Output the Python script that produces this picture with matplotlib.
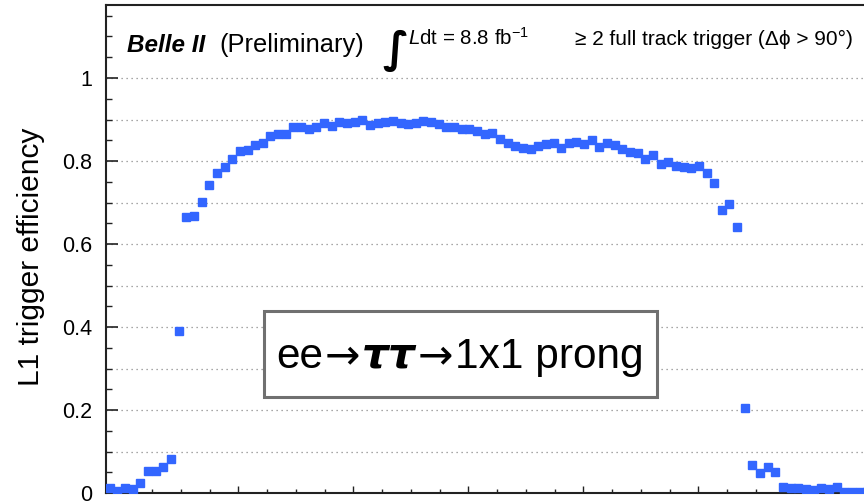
import numpy as np
import matplotlib
matplotlib.use("Agg")
import matplotlib.pyplot as plt
from matplotlib.patches import Rectangle
from matplotlib.ticker import MultipleLocator, FixedLocator

plt.rcParams['font.family'] = ['Liberation Sans', 'DejaVu Sans']
plt.rcParams['mathtext.fontset'] = 'custom'
plt.rcParams['mathtext.rm'] = 'Liberation Sans'
plt.rcParams['mathtext.it'] = 'Liberation Sans:italic'
plt.rcParams['mathtext.bf'] = 'Liberation Sans:bold'

# ---------------- data ----------------
theta_min, theta_max, n_bins = 17.0, 150.0, 100
efficiency = [
    0.013, 0.005, 0.013, 0.010, 0.024, 0.054, 0.054, 0.063, 0.082, 0.390,
    0.664, 0.667, 0.702, 0.743, 0.772, 0.786, 0.806, 0.825, 0.827, 0.839,
    0.843, 0.861, 0.864, 0.864, 0.882, 0.882, 0.877, 0.882, 0.892, 0.885,
    0.894, 0.892, 0.895, 0.900, 0.886, 0.892, 0.894, 0.896, 0.892, 0.890,
    0.892, 0.896, 0.894, 0.888, 0.882, 0.882, 0.876, 0.877, 0.872, 0.866,
    0.868, 0.853, 0.843, 0.837, 0.832, 0.830, 0.836, 0.842, 0.843, 0.832,
    0.843, 0.846, 0.840, 0.851, 0.834, 0.843, 0.839, 0.829, 0.822, 0.820,
    0.806, 0.814, 0.793, 0.798, 0.789, 0.785, 0.782, 0.787, 0.772, 0.748,
    0.682, 0.697, 0.640, 0.204, 0.067, 0.049, 0.062, 0.051, 0.015, 0.013,
    0.013, 0.010, 0.007, 0.013, 0.009, 0.014, 0.003, 0.003, 0.003, 0.003,
]
y_ticks = [0.0, 0.2, 0.4, 0.6, 0.8, 1.0]
y_tick_labels = ["0", "0.2", "0.4", "0.6", "0.8", "1"]
grid_levels = [0.1, 0.2, 0.3, 0.4, 0.5, 0.6, 0.7, 0.8, 0.9, 1.0]
x_major = [40, 60, 80, 100, 120, 140]

edges = np.linspace(theta_min, theta_max, n_bins + 1)
centers = 0.5 * (edges[:-1] + edges[1:])

# ---------------- figure ----------------
W, H = 864, 501
fig = plt.figure(figsize=(W / 100, H / 100), dpi=100)
fig.patch.set_facecolor('white')

def fx(px):
    return px / W

def fy(py):
    return 1 - py / H

ax = fig.add_axes([fx(106), fy(493), 765 / W, 488 / H])
ax.set_facecolor('white')

ax.plot(centers, efficiency, ls='none', marker='s', ms=5.5,
        color='#3366ff', mec='#3366ff', zorder=3)

ax.set_xlim(theta_min, theta_max)
ax.set_ylim(0, 488 / 415)

for g in grid_levels:
    ax.axhline(g, color='#8a8a8a', lw=0.9, ls=(0, (1, 3)), zorder=1)

ax.set_yticks(y_ticks)
ax.set_yticklabels(y_tick_labels)
ax.yaxis.set_minor_locator(MultipleLocator(0.05))
ax.xaxis.set_major_locator(FixedLocator(x_major))
ax.xaxis.set_minor_locator(MultipleLocator(5))

ax.tick_params(axis='y', which='major', direction='in', length=8.6, width=1.2,
               labelsize=15.5, pad=10, color='#222222')
ax.tick_params(axis='y', which='minor', direction='in', length=4.3, width=1.0,
               color='#222222')
ax.tick_params(axis='x', which='major', direction='in', length=5, width=1.0,
               labelbottom=False, color='#222222')
ax.tick_params(axis='x', which='minor', direction='in', length=2.6, width=1.0,
               color='#222222')

for s in ['top', 'left', 'bottom', 'right']:
    ax.spines[s].set_color('#222222')
    ax.spines[s].set_linewidth(1.5)

# y label
fig.text(fx(31), fy(257), "L1 trigger efficiency", rotation=90,
         ha='center', va='center', fontsize=21.5)

# header texts
fig.text(fx(127), fy(52), "Belle II", fontsize=17.5, fontweight='bold',
         style='italic', va='baseline', ha='left')
fig.text(fx(219), fy(52), "(Preliminary)", fontsize=18.3, va='baseline', ha='left')
fig.text(fx(382), fy(62), "\u222B", fontsize=31, va='baseline', ha='left',
         fontweight='bold', family=['DejaVu Sans'])
fig.text(fx(408), fy(45), r"$\mathit{L}$dt = 8.8 fb$^{\mathregular{-1}}$",
         fontsize=14.8, va='baseline', ha='left')
fig.text(fx(575), fy(45), "\u2265 2 full track trigger (\u0394\u03d5 > 90\u00b0)",
         fontsize=15, va='baseline', ha='left')

# box with process label
rect = Rectangle((fx(264), fy(397)), (657 - 264) / W, (397 - 311) / H,
                 transform=fig.transFigure, facecolor='white',
                 edgecolor='#707070', lw=2.2, zorder=5, clip_on=False)
ax.add_patch(rect)
fs = 30.5
gap = 1.2
t1 = ax.text(fx(276), fy(368), "ee", transform=fig.transFigure,
             fontsize=fs, va='baseline', ha='left', zorder=6)
t2 = ax.annotate("\u2192", xy=(1, 0), xycoords=t1, va='bottom', ha='left',
                 fontsize=fs, family=['DejaVu Sans'], zorder=6,
                 xytext=(gap, 0), textcoords='offset points')
t3 = ax.annotate("\u03c4\u03c4", xy=(1, 0), xycoords=t2, va='bottom', ha='left',
                 fontsize=fs, fontweight='bold', style='italic',
                 family=['DejaVu Sans'], zorder=6,
                 xytext=(gap, 0), textcoords='offset points')
t4 = ax.annotate("\u2192", xy=(1, 0), xycoords=t3, va='bottom', ha='left',
                 fontsize=fs, family=['DejaVu Sans'], zorder=6,
                 xytext=(gap, 0), textcoords='offset points')
t5 = ax.annotate("1x1 prong", xy=(1, 0), xycoords=t4, va='bottom', ha='left',
                 fontsize=fs, zorder=6,
                 xytext=(gap, 0), textcoords='offset points')

fig.savefig("out.png", dpi=100)
